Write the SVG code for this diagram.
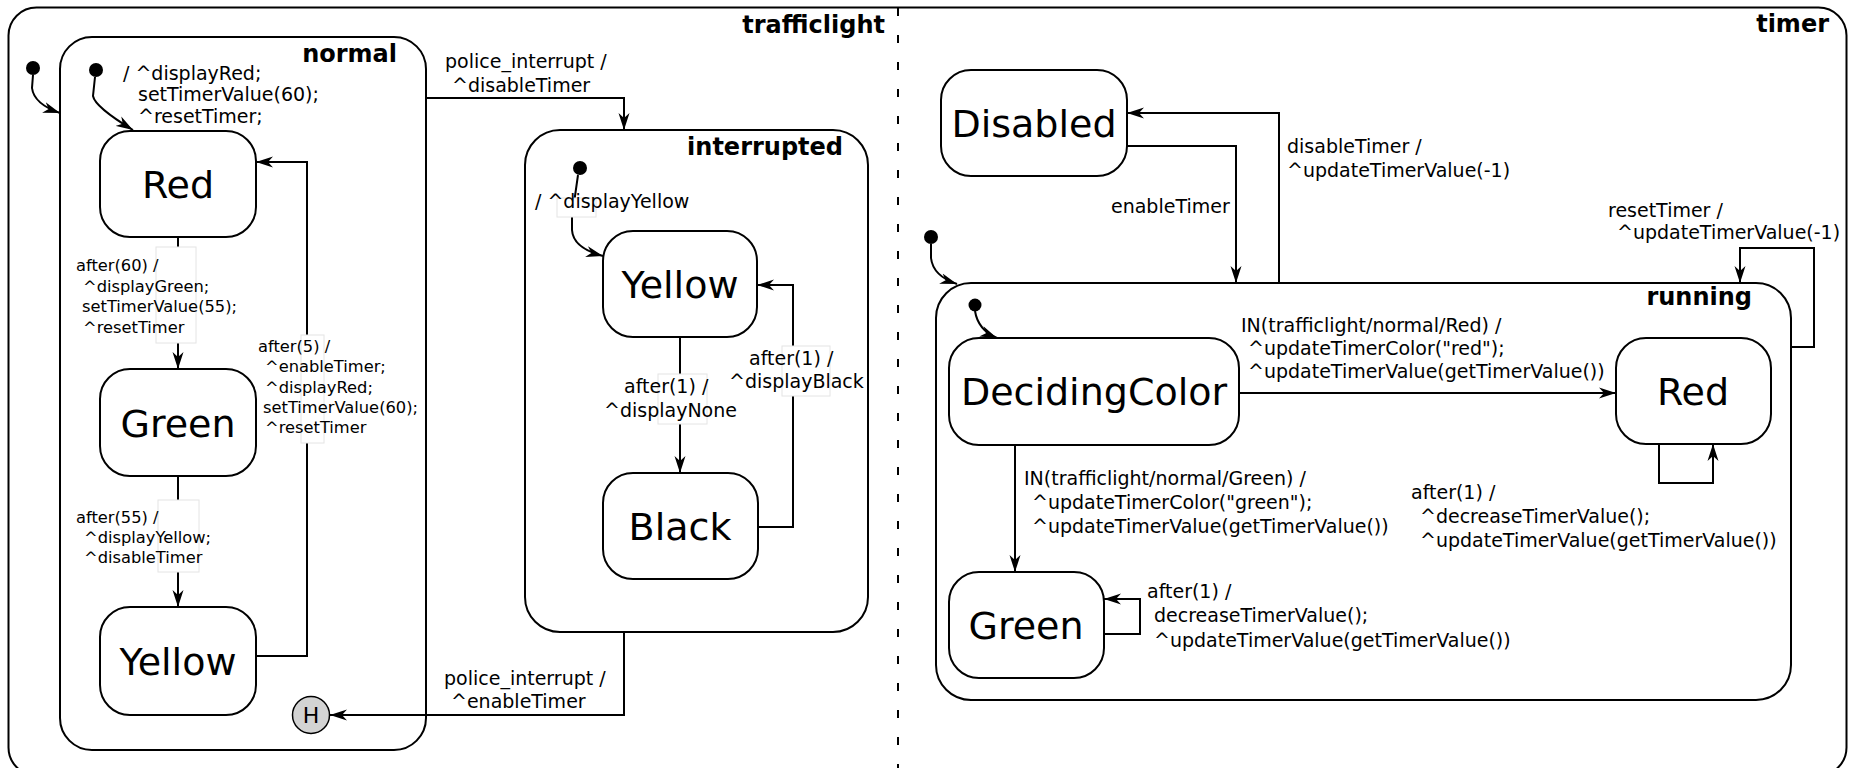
<svg xmlns="http://www.w3.org/2000/svg" width="1849" height="768" viewBox="0 0 1849 768">
<style>
text{font-family:"DejaVu Sans","Verdana",sans-serif;fill:#000}
.st{fill:#fff;stroke:#000;stroke-width:2}
.sn{font-size:38px;text-anchor:middle}
.title{font-size:24px;font-weight:bold;text-anchor:end}
.lb{font-size:19px}
.ls{font-size:16.3px}
.c{fill:none;stroke:#000;stroke-width:2;marker-end:url(#ah)}
.box{fill:#fff;stroke:#e4e4e4;stroke-width:1}
.dot{fill:#000}
</style>
<defs>
<marker id="ah" markerUnits="userSpaceOnUse" markerWidth="18" markerHeight="12" refX="17" refY="6" orient="auto">
<path d="M0,0.5 L17,6 L0,11.5 L5,6 Z" fill="#000"/>
</marker>
</defs>
<rect width="1849" height="768" fill="#fff"/>
<g id="frame">
<rect x="8.5" y="7.5" width="1838" height="768" rx="28" fill="none" stroke="#000" stroke-width="2"/>
<line x1="898" y1="8" x2="898" y2="768" stroke="#000" stroke-width="2" stroke-dasharray="8 19"/>
<text class="title" x="885" y="33">trafficlight</text>
<text class="title" x="1829" y="32">timer</text>
</g>
<g id="normal">
<rect class="st" x="60" y="37" width="366" height="713" rx="32"/>
<text class="title" x="397" y="62">normal</text>
</g>
<g id="interrupted">
<rect class="st" x="525" y="130" width="343" height="502" rx="35"/>
<text class="title" x="843" y="155">interrupted</text>
</g>
<g id="running">
<rect class="st" x="936" y="283" width="855" height="417" rx="35"/>
<text class="title" x="1752" y="305">running</text>
</g>
<g id="normal-Red"><rect class="st" x="100" y="131" width="156" height="106" rx="30"/><text class="sn" x="178" y="198">Red</text></g>
<g id="normal-Green"><rect class="st" x="100" y="369" width="156" height="107" rx="30"/><text class="sn" x="178" y="437">Green</text></g>
<g id="normal-Yellow"><rect class="st" x="100" y="607" width="156" height="108" rx="30"/><text class="sn" x="178" y="675">Yellow</text></g>
<g id="normal-H"><circle cx="311" cy="715" r="18.5" fill="#d3d3d3" stroke="#000" stroke-width="1.5"/><text x="311" y="723" font-size="22" text-anchor="middle">H</text></g>
<g id="interrupted-Yellow"><rect class="st" x="603" y="231" width="154" height="106" rx="30"/><text class="sn" x="680" y="298">Yellow</text></g>
<g id="interrupted-Black"><rect class="st" x="603" y="473" width="155" height="106" rx="30"/><text class="sn" x="680" y="540">Black</text></g>
<g id="Disabled"><rect class="st" x="941" y="70" width="186" height="106" rx="30"/><text class="sn" x="1034" y="137">Disabled</text></g>
<g id="DecidingColor"><rect class="st" x="949" y="338" width="290" height="107" rx="30"/><text class="sn" x="1094" y="405">DecidingColor</text></g>
<g id="running-Red"><rect class="st" x="1616" y="338" width="155" height="106" rx="30"/><text class="sn" x="1693" y="405">Red</text></g>
<g id="running-Green"><rect class="st" x="949" y="572" width="155" height="106" rx="30"/><text class="sn" x="1026" y="639">Green</text></g>
<g id="initials">
<circle class="dot" cx="33" cy="68" r="7"/>
<circle class="dot" cx="96" cy="70" r="7"/>
<circle class="dot" cx="580" cy="168" r="7"/>
<circle class="dot" cx="931" cy="237" r="7"/>
<circle class="dot" cx="975" cy="305" r="6.5"/>
</g>
<g id="connectors">
<path class="c" d="M33,75 L32,88 Q34,104 60,113"/>
<path class="c" d="M95,77 L93,96 Q95,107 133,130"/>
<text class="lb" x="123" y="80">/ ^displayRed;</text>
<text class="lb" x="138" y="101">setTimerValue(60);</text>
<text class="lb" x="138" y="123">^resetTimer;</text>

<path class="c" d="M178,237 L178,369"/>
<rect class="box" x="156" y="247" width="40" height="96"/>
<text class="ls" x="76" y="271">after(60) /</text>
<text class="ls" x="83" y="292">^displayGreen;</text>
<text class="ls" x="82" y="312">setTimerValue(55);</text>
<text class="ls" x="83" y="333">^resetTimer</text>

<path class="c" d="M178,476 L178,607"/>
<rect class="box" x="158" y="500" width="41" height="72"/>
<text class="ls" x="76" y="523">after(55) /</text>
<text class="ls" x="84" y="543">^displayYellow;</text>
<text class="ls" x="84" y="563">^disableTimer</text>

<path class="c" d="M256,656 L307,656 L307,162 L256,162"/>
<rect class="box" x="301" y="335" width="23" height="108"/>
<text class="ls" x="258" y="352">after(5) /</text>
<text class="ls" x="265" y="372">^enableTimer;</text>
<text class="ls" x="265" y="393">^displayRed;</text>
<text class="ls" x="263" y="413">setTimerValue(60);</text>
<text class="ls" x="265" y="433">^resetTimer</text>

<path class="c" d="M426,98 L624,98 L624,130"/>
<text class="lb" x="445" y="68">police_interrupt /</text>
<text class="lb" x="452" y="92">^disableTimer</text>

<path class="c" d="M624,632 L624,715 L330,715"/>
<text class="lb" x="444" y="685">police_interrupt /</text>
<text class="lb" x="451" y="708">^enableTimer</text>

<path class="c" d="M578,175 L572,217 L572,230 Q573,248 603,256"/>
<rect class="box" x="557" y="198" width="39" height="19"/>
<text class="lb" x="535" y="208">/ ^displayYellow</text>

<path class="c" d="M680,337 L680,473"/>
<rect class="box" x="658" y="374" width="49" height="50"/>
<text class="lb" x="624" y="393">after(1) /</text>
<text class="lb" x="604" y="417">^displayNone</text>

<path class="c" d="M758,527 L793,527 L793,285 L757,285"/>
<rect class="box" x="782" y="346" width="48" height="50"/>
<text class="lb" x="749" y="365">after(1) /</text>
<text class="lb" x="729" y="388">^displayBlack</text>

<path class="c" d="M1127,146 L1236,146 L1236,283"/>
<text class="lb" x="1111" y="213">enableTimer</text>

<path class="c" d="M1279,283 L1279,113 L1127,113"/>
<text class="lb" x="1287" y="153">disableTimer /</text>
<text class="lb" x="1287" y="177">^updateTimerValue(-1)</text>

<path class="c" d="M931,244 L931,258 Q933,276 957,284"/>

<path class="c" d="M1791,347 L1814,347 L1814,248 L1740,248 L1740,283"/>
<text class="lb" x="1608" y="217">resetTimer /</text>
<text class="lb" x="1617" y="239">^updateTimerValue(-1)</text>

<path class="c" d="M975,311 Q978,330 997,338"/>

<path class="c" d="M1239,393 L1616,393"/>
<text class="lb" x="1241" y="332">IN(trafficlight/normal/Red) /</text>
<text class="lb" x="1248" y="355">^updateTimerColor("red");</text>
<text class="lb" x="1248" y="378">^updateTimerValue(getTimerValue())</text>

<path class="c" d="M1015,445 L1015,572"/>
<text class="lb" x="1024" y="485">IN(trafficlight/normal/Green) /</text>
<text class="lb" x="1032" y="509">^updateTimerColor("green");</text>
<text class="lb" x="1032" y="533">^updateTimerValue(getTimerValue())</text>

<path class="c" d="M1104,634 L1140,634 L1140,599 L1104,599"/>
<text class="lb" x="1147" y="598">after(1) /</text>
<text class="lb" x="1154" y="622">decreaseTimerValue();</text>
<text class="lb" x="1154" y="647">^updateTimerValue(getTimerValue())</text>

<path class="c" d="M1659,444 L1659,483 L1713,483 L1713,444"/>
<text class="lb" x="1411" y="499">after(1) /</text>
<text class="lb" x="1420" y="523">^decreaseTimerValue();</text>
<text class="lb" x="1420" y="547">^updateTimerValue(getTimerValue())</text>
</g>
</svg>
